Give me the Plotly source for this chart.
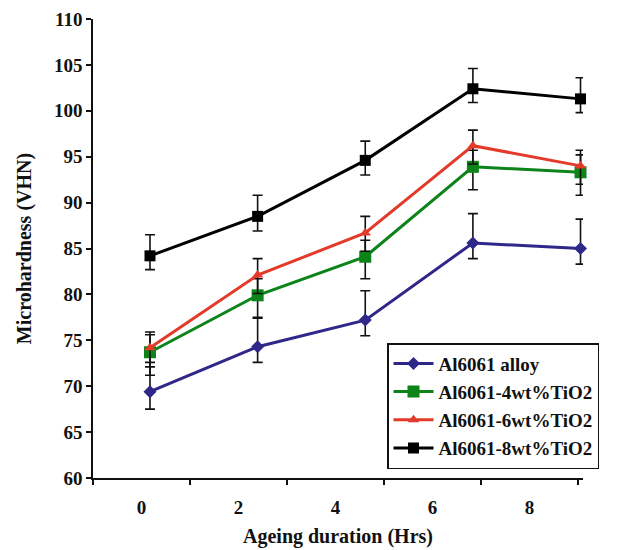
import plotly.graph_objects as go

# Ageing duration (hours) and microhardness readings (VHN)
hours = [0, 2, 4, 6, 8]
hour_labels = ["0", "2", "4", "6", "8"]
# boundaries between the hour categories, where the axis ticks sit
hour_bounds = [-1, 1, 3, 5, 7, 9]

alloy = [69.4, 74.3, 77.2, 85.6, 85.0]
alloy_err_up = [3.2, 3.2, 3.2, 3.2, 3.2]
alloy_err_dn = [1.9, 1.7, 1.7, 1.7, 1.7]

tio2_4 = [73.7, 79.9, 84.1, 93.9, 93.3]
tio2_4_err_up = [1.9, 1.8, 1.8, 1.8, 1.9]
tio2_4_err_dn = [2.5, 2.5, 2.4, 2.5, 2.5]

tio2_6 = [74.2, 82.1, 86.7, 96.2, 94.0]
tio2_6_err_up = [1.7, 1.8, 1.8, 1.7, 1.7]
tio2_6_err_dn = [2.1, 2.0, 2.0, 2.0, 2.0]

tio2_8 = [84.2, 88.5, 94.6, 102.4, 101.3]
tio2_8_err_up = [2.3, 2.3, 2.1, 2.2, 2.3]
tio2_8_err_dn = [1.5, 1.6, 1.6, 1.5, 1.5]

series = [
    ("Al6061 alloy", alloy, alloy_err_up, alloy_err_dn, "#2f2888", "diamond", 10),
    ("Al6061-4wt%TiO2", tio2_4, tio2_4_err_up, tio2_4_err_dn, "#0c841a", "square", 12),
    ("Al6061-6wt%TiO2", tio2_6, tio2_6_err_up, tio2_6_err_dn, "#e43a2a", "triangle-up", 10),
    ("Al6061-8wt%TiO2", tio2_8, tio2_8_err_up, tio2_8_err_dn, "#000000", "square", 11),
]

FONT = "Liberation Serif"

# The series are plotted on a numeric hour axis, while the labels and
# boundary ticks follow a category layout that spans the same width.
DATA_RANGE = [-1.059, 8.046]
CAT_RANGE = [-1, 9.103]


def cat_to_data(v):
    """Map a position on the category layout onto the numeric hour axis."""
    frac = (v - CAT_RANGE[0]) / (CAT_RANGE[1] - CAT_RANGE[0])
    return DATA_RANGE[0] + frac * (DATA_RANGE[1] - DATA_RANGE[0])


label_pos = [cat_to_data(h) for h in hours]
bound_pos = [cat_to_data(b) for b in hour_bounds]

fig = go.Figure()
for name, vals, up, dn, color, symbol, size in series:
    fig.add_trace(go.Scatter(
        x=hours, y=vals, name=name, legendgroup=name,
        mode="lines+markers",
        line=dict(color=color, width=3),
        marker=dict(color=color, symbol=symbol, size=size),
        error_y=dict(type="data", symmetric=False, array=up, arrayminus=dn,
                     color="#111111", thickness=1.6, width=5),
        cliponaxis=False,
    ))

fig.update_layout(
    width=638, height=550,
    margin=dict(l=93, r=55, t=19, b=72),
    paper_bgcolor="white", plot_bgcolor="white",
    font=dict(family=FONT, color="#111111", size=19, weight="bold"),
    showlegend=True,
    legend=dict(
        x=0.600, y=0.294, xanchor="left", yanchor="top",
        bgcolor="white", bordercolor="#111111", borderwidth=1.5,
        font=dict(family=FONT, size=19, color="#111111", weight="bold"),
        traceorder="grouped", tracegroupgap=0.5, itemwidth=40,
    ),
    xaxis=dict(
        range=DATA_RANGE, automargin=False,
        tickmode="array", tickvals=label_pos, ticktext=hour_labels,
        ticks="", showgrid=False, zeroline=False,
        showline=True, linecolor="#111111", linewidth=1.5,
        minor=dict(tickmode="array", tickvals=bound_pos, ticks="outside",
                   ticklen=5, tickwidth=1.5, tickcolor="#111111", showgrid=False),
        ticklabelstandoff=11,
        tickfont=dict(family=FONT, size=19, weight="bold"),
        title=dict(text="Ageing duration (Hrs)", standoff=12,
                   font=dict(family=FONT, size=20, weight="bold")),
    ),
    yaxis=dict(
        range=[60, 110], dtick=5, tick0=60, automargin=False,
        ticks="outside", ticklen=5, tickwidth=1.5, tickcolor="#111111",
        showgrid=False, zeroline=False,
        showline=True, linecolor="#111111", linewidth=1.5,
        tickfont=dict(family=FONT, size=19, weight="bold"),
        title=dict(text="Microhardness (VHN)", standoff=17,
                   font=dict(family=FONT, size=20, weight="bold")),
    ),
)

fig.write_html("out.html")
